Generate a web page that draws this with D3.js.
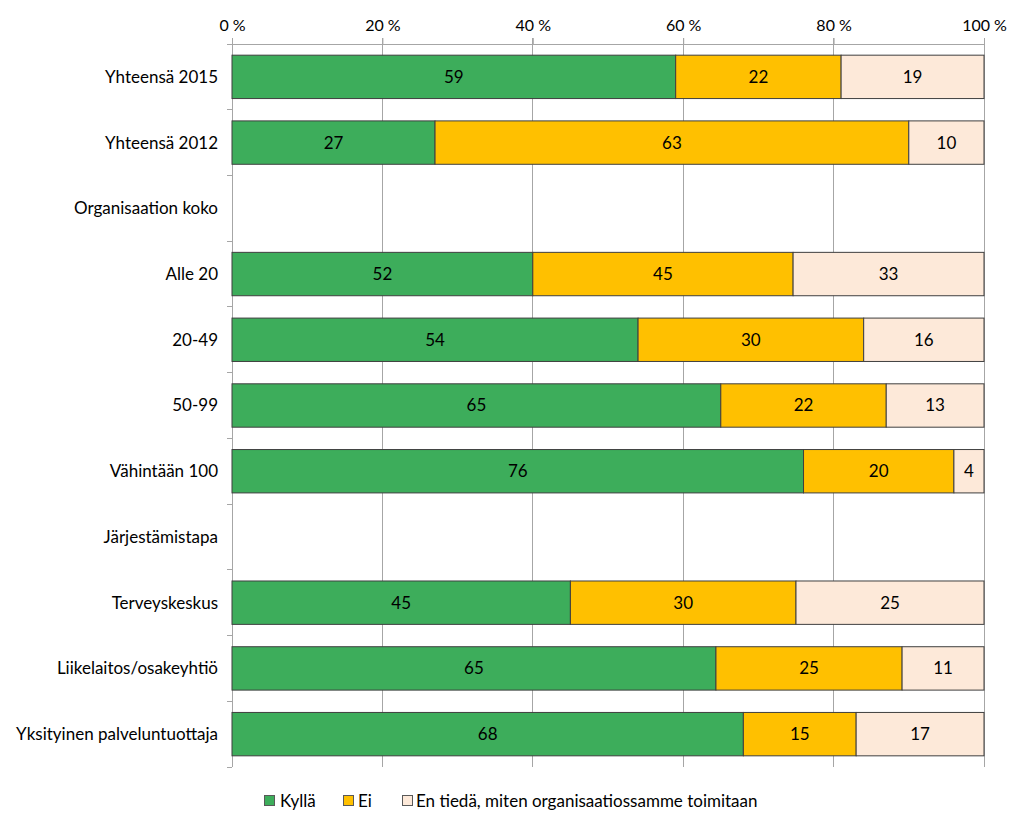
<!DOCTYPE html>
<html><head><meta charset="utf-8">
<script src="https://cdn.jsdelivr.net/npm/d3@7/dist/d3.min.js"></script>
<style>body{margin:0;background:#fff}svg{display:block}text{font-family:Lato,"Open Sans",sans-serif;fill:#000}</style>
</head><body><svg id="c" width="1024" height="826"></svg>
<script>
const categories = ["Yhteensä 2015","Yhteensä 2012","Organisaation koko","Alle 20","20-49","50-99","Vähintään 100","Järjestämistapa","Terveyskeskus","Liikelaitos/osakeyhtiö","Yksityinen palveluntuottaja"];
const kylla = [59,27,null,52,54,65,76,null,45,65,68];
const ei    = [22,63,null,45,30,22,20,null,30,25,15];
const enTieda = [19,10,null,33,16,13,4,null,25,11,17];
const seriesNames = ["Kyllä","Ei","En tiedä, miten organisaatiossamme toimitaan"];
const colors = ["#3DAD5B","#FFC000","#FDE9D9"];
const xTicks = [0,20,40,60,80,100];

const svg = d3.select("#c");
const L=232,R=984,T=44,B=767;
const x = d3.scaleLinear().domain([0,100]).range([L,R]);
const y = d3.scaleBand().domain(categories).range([T,B]).paddingInner(0.34).paddingOuter(0.17);

// gridlines
svg.append("g").selectAll("line").data(xTicks.slice(1)).join("line")
  .attr("x1",d=>x(d)).attr("x2",d=>x(d)).attr("y1",T-6).attr("y2",B).attr("stroke","#A6A6A6").attr("stroke-width",1).attr("shape-rendering","crispEdges");
// top axis
const xa = svg.append("g").attr("transform",`translate(0,${T})`).call(d3.axisTop(x).tickValues(xTicks).tickSize(6).tickFormat(d=>d+" %"));
xa.attr("font-size",null).attr("font-family",null);
xa.select(".domain").attr("stroke","#A6A6A6");
xa.selectAll(".tick line").attr("stroke","#A6A6A6");
xa.selectAll("text").attr("font-size",16).attr("y",-13).attr("dy","0").attr("fill","#000");
// left axis
const ticksY = d3.range(categories.length+1).map(i=>T+i*(B-T)/categories.length);
svg.append("line").attr("x1",L).attr("x2",L).attr("y1",T).attr("y2",B).attr("stroke","#A6A6A6").attr("shape-rendering","crispEdges");
svg.append("g").selectAll("line").data(ticksY).join("line")
  .attr("x1",L-5).attr("x2",L).attr("y1",d=>d).attr("y2",d=>d).attr("stroke","#A6A6A6").attr("shape-rendering","crispEdges");
svg.append("g").selectAll("text").data(categories).join("text")
  .attr("x",L-14).attr("y",d=>y(d)+y.bandwidth()/2).attr("dy","0.35em").attr("text-anchor","end").attr("font-size",17).text(d=>d);

// bars
const rows = categories.map((c,i)=>({c, vals:[kylla[i],ei[i],enTieda[i]]})).filter(r=>r.vals[0]!=null);
rows.forEach(r=>{
  const tot = d3.sum(r.vals);
  let acc=0;
  r.vals.forEach((v,j)=>{
    const x0 = x(acc/tot*100), x1 = x((acc+v)/tot*100);
    acc+=v;
    svg.append("rect").attr("x",x0).attr("y",y(r.c)).attr("width",x1-x0).attr("height",y.bandwidth())
      .attr("fill",colors[j]).attr("stroke","#3F3F3F").attr("stroke-width",1);
    svg.append("text").attr("x",(x0+x1)/2).attr("y",y(r.c)+y.bandwidth()/2).attr("dy","0.35em")
      .attr("text-anchor","middle").attr("font-size",17).text(v);
  });
});

// legend
const leg = [{x:264,tx:280},{x:343,tx:358},{x:402,tx:416}];
seriesNames.forEach((s,i)=>{
  svg.append("rect").attr("x",leg[i].x+0.5).attr("y",795.5).attr("width",10).attr("height",10).attr("fill",colors[i]).attr("stroke","#595959");
  svg.append("text").attr("x",leg[i].tx).attr("y",801).attr("dy","0.35em").attr("font-size",17).text(s);
});
</script></body></html>
